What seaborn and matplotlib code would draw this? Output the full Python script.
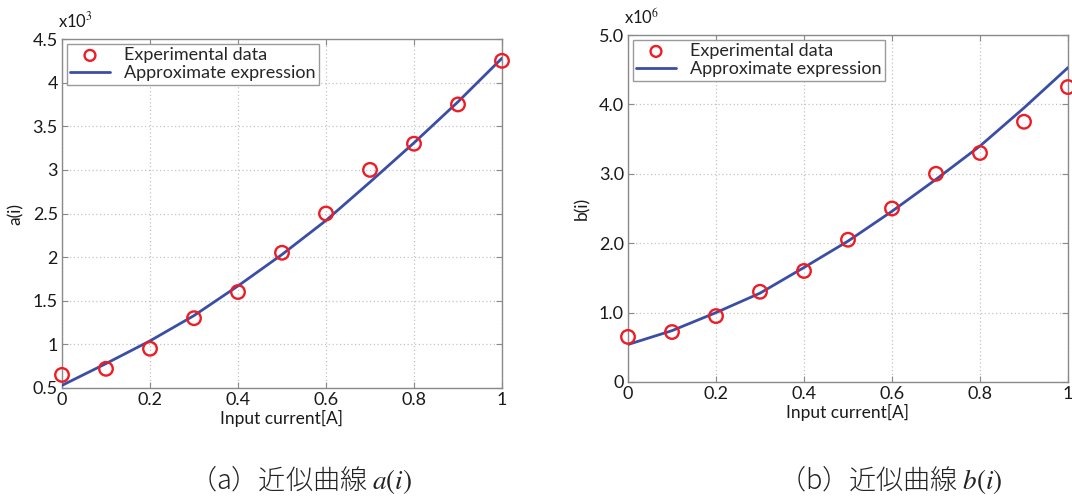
import matplotlib
matplotlib.use("Agg")
import matplotlib.pyplot as plt
import seaborn as sns
import pandas as pd

# ---- data ----
current = [0.0, 0.1, 0.2, 0.3, 0.4, 0.5, 0.6, 0.7, 0.8, 0.9, 1.0]
a_exp = [0.65, 0.72, 0.95, 1.30, 1.60, 2.05, 2.50, 3.00, 3.30, 3.75, 4.25]     # x10^3
a_fit = [0.53, 0.78, 1.04, 1.33, 1.67, 2.03, 2.42, 2.86, 3.31, 3.78, 4.28]     # x10^3
b_exp = [0.65, 0.72, 0.95, 1.30, 1.60, 2.05, 2.50, 3.00, 3.30, 3.75, 4.25]     # x10^6
b_fit = [0.54, 0.74, 1.00, 1.28, 1.65, 2.03, 2.46, 2.92, 3.40, 3.95, 4.53]     # x10^6

a_yticks = [0.5, 1, 1.5, 2, 2.5, 3, 3.5, 4, 4.5]
a_yticklabels = ["0.5", "1", "1.5", "2", "2.5", "3", "3.5", "4", "4.5"]
b_yticks = [0, 1, 2, 3, 4, 5]
b_yticklabels = ["0", "1.0", "2.0", "3.0", "4.0", "5.0"]
xticks = [0, 0.2, 0.4, 0.6, 0.8, 1.0]
xticklabels = ["0", "0.2", "0.4", "0.6", "0.8", "1"]

sns.set_theme(style="whitegrid")
plt.rcParams['font.family'] = ['Lato', 'Noto Sans CJK JP', 'DejaVu Sans']
plt.rcParams['mathtext.fontset'] = 'stix'

fig = plt.figure(figsize=(10.72, 5.0), dpi=100)
fig.patch.set_facecolor('white')

ax1 = fig.add_axes([62/1072, 1-388/500, 440/1072, 349/500])
ax2 = fig.add_axes([628/1072, 1-382/500, 440/1072, 347/500])

RED = '#ee1c24'
BLUE = '#3a4ea6'
TXT = '#1a1a1a'

def draw(ax, yexp, yfit, ylim, yticks, yticklabels, ylabel, mult):
    df = pd.DataFrame({'x': current, 'exp': yexp, 'fit': yfit})
    sns.scatterplot(data=df, x='x', y='exp', ax=ax, marker='o', s=95,
                    facecolors='none', edgecolor=RED, linewidth=1.7,
                    label='Experimental data', clip_on=False, zorder=4)
    sns.lineplot(data=df, x='x', y='fit', ax=ax, color=BLUE, linewidth=2.0,
                 label='Approximate expression', zorder=3)
    ax.set_xlim(0, 1)
    ax.set_ylim(*ylim)
    ax.set_xticks(xticks)
    ax.set_xticklabels(xticklabels)
    ax.set_yticks(yticks)
    ax.set_yticklabels(yticklabels)
    ax.set_facecolor('white')
    ax.grid(True, color='#c4c4c4', linestyle=(0, (1, 2)), linewidth=0.9)
    for s in ax.spines.values():
        s.set_color('#8a8a8a')
        s.set_linewidth(1.0)
    ax.tick_params(direction='in', length=4, width=0.8, color='#8a8a8a',
                   labelsize=13, labelcolor=TXT,
                   top=True, right=True, bottom=True, left=True)
    ax.tick_params(axis='x', pad=3)
    ax.tick_params(axis='y', pad=3)
    ax.set_xlabel('Input current[A]', fontsize=12.5, color=TXT, labelpad=1.5)
    ax.set_ylabel(ylabel, fontsize=12.5, color=TXT, labelpad=6)
    leg = ax.legend(loc='upper left', fontsize=13, frameon=True, fancybox=False,
                    framealpha=1, edgecolor='#9a9a9a', borderaxespad=0.25,
                    handlelength=2.2, borderpad=0.2, labelspacing=0.1,
                    markerscale=0.8, handletextpad=0.8)
    leg.get_frame().set_linewidth(1.0)
    ax.text(-0.01, 1.025, r'x10$^{%d}$' % mult, transform=ax.transAxes,
            fontsize=12, color=TXT, ha='left', va='bottom',
            family=['Lato', 'DejaVu Sans'])

draw(ax1, a_exp, a_fit, (0.5, 4.5), a_yticks, a_yticklabels, 'a(i)', 3)
draw(ax2, b_exp, b_fit, (0, 5), b_yticks, b_yticklabels, 'b(i)', 6)

cap_font = ['Noto Sans CJK JP', 'DejaVu Sans']
fig.text(301/1072, 1-480/500, '（a）近似曲線 $a(i)$', fontsize=19.5, ha='center',
         va='center', color='#222222', family=cap_font, fontweight='light')
fig.text(890/1072, 1-480/500, '（b）近似曲線 $b(i)$', fontsize=19.5, ha='center',
         va='center', color='#222222', family=cap_font, fontweight='light')

fig.savefig('out.png', dpi=100, facecolor='white')
